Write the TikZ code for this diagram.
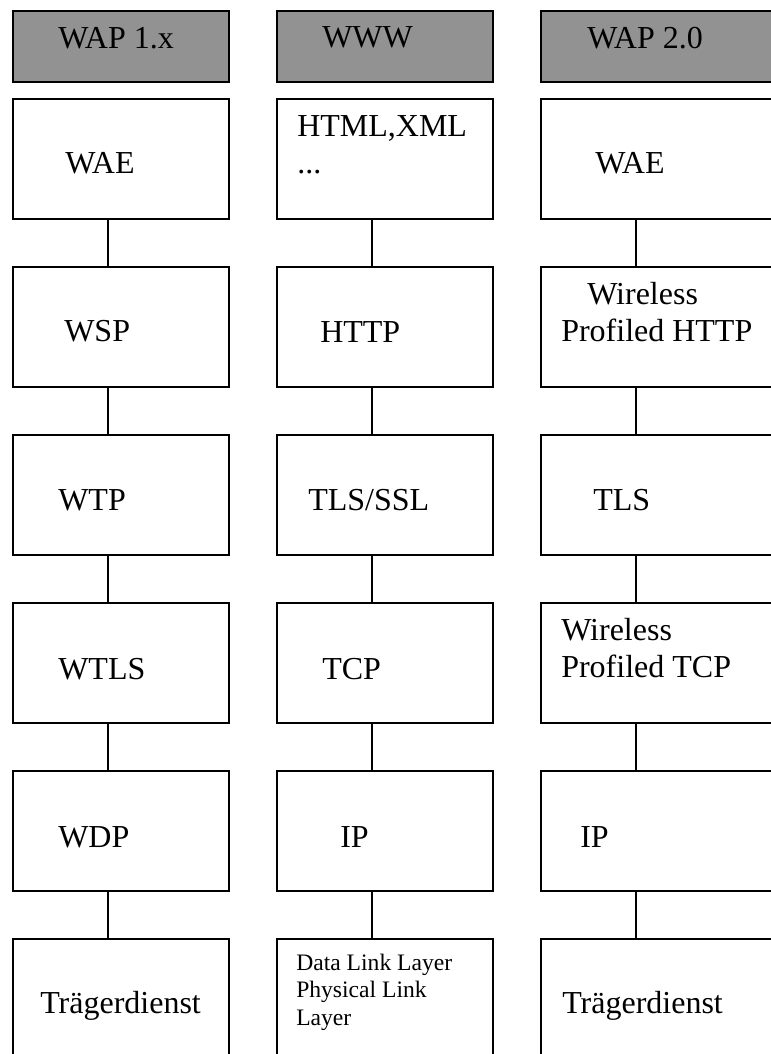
\documentclass[tikz,border=0pt]{standalone}
\usepackage{fontspec}
\setmainfont{Liberation Serif}
\usepackage{xcolor}
\definecolor{headgray}{RGB}{146,146,146}

\begin{document}
\begin{tikzpicture}[x=0.75pt,y=-0.75pt,
    layer/.style={draw,line width=1.2pt,inner sep=0pt,anchor=north west,
      minimum width=162pt,minimum height=90pt},
    wide/.style={layer,minimum width=195pt},
    head/.style={fill=headgray,minimum height=53.25pt},
    txt/.style={anchor=base west,inner sep=0pt,align=left,
      font=\fontsize{24}{27.6}\selectfont},
    smalltxt/.style={txt,font=\fontsize{17.7}{20.6}\selectfont},
    link/.style={line width=1.2pt}]
        \useasboundingbox (0,0) rectangle (771,1054);
        \clip (0,0) rectangle (771,1054);

        % headers
        \node[layer,head] (h1) at (12,10) {};
        \node[layer,head] (h2) at (276,10) {};
        \node[wide,head] (h3) at (540,10) {};

        % WAP 1.x stack
        \node[layer] (wae1) at (12,98) {};
        \node[layer] (wsp) at (12,266) {};
        \node[layer] (wtp) at (12,434) {};
        \node[layer] (wtls) at (12,602) {};
        \node[layer] (wdp) at (12,770) {};
        \node[layer] (bearer1) at (12,938) {};

        % WWW stack
        \node[layer] (html) at (276,98) {};
        \node[layer] (http) at (276,266) {};
        \node[layer] (ssl) at (276,434) {};
        \node[layer] (tcp) at (276,602) {};
        \node[layer] (ip2) at (276,770) {};
        \node[layer] (link2) at (276,938) {};

        % WAP 2.0 stack
        \node[wide] (wae3) at (540,98) {};
        \node[wide] (whttp) at (540,266) {};
        \node[wide] (tls) at (540,434) {};
        \node[wide] (wtcp) at (540,602) {};
        \node[wide] (ip3) at (540,770) {};
        \node[wide] (bearer3) at (540,938) {};

        % connectors
        \draw[link] ([xshift=72pt]wae1.south west) -- ([xshift=72pt]wsp.north west);
        \draw[link] ([xshift=72pt]wsp.south west) -- ([xshift=72pt]wtp.north west);
        \draw[link] ([xshift=72pt]wtp.south west) -- ([xshift=72pt]wtls.north west);
        \draw[link] ([xshift=72pt]wtls.south west) -- ([xshift=72pt]wdp.north west);
        \draw[link] ([xshift=72pt]wdp.south west) -- ([xshift=72pt]bearer1.north west);

        \draw[link] ([xshift=72pt]html.south west) -- ([xshift=72pt]http.north west);
        \draw[link] ([xshift=72pt]http.south west) -- ([xshift=72pt]ssl.north west);
        \draw[link] ([xshift=72pt]ssl.south west) -- ([xshift=72pt]tcp.north west);
        \draw[link] ([xshift=72pt]tcp.south west) -- ([xshift=72pt]ip2.north west);
        \draw[link] ([xshift=72pt]ip2.south west) -- ([xshift=72pt]link2.north west);

        \draw[link] ([xshift=72pt]wae3.south west) -- ([xshift=72pt]whttp.north west);
        \draw[link] ([xshift=72pt]whttp.south west) -- ([xshift=72pt]tls.north west);
        \draw[link] ([xshift=72pt]tls.south west) -- ([xshift=72pt]wtcp.north west);
        \draw[link] ([xshift=72pt]wtcp.south west) -- ([xshift=72pt]ip3.north west);
        \draw[link] ([xshift=72pt]ip3.south west) -- ([xshift=72pt]bearer3.north west);

        % labels (multi-line ones sit on their last baseline)
        \node[txt] (t-h1) at (58,48) {WAP 1.x};
        \node[txt] (t-wae1) at (65,173) {WAE};
        \node[txt] (t-wsp) at (64,341) {WSP};
        \node[txt] (t-wtp) at (58,510) {WTP};
        \node[txt] (t-wtls) at (58,679) {WTLS};
        \node[txt] (t-wdp) at (58,847) {WDP};
        \node[txt] (t-bearer1) at (40,1013) {Trägerdienst};

        \node[txt] (t-h2) at (322,47) {WWW};
        \node[txt] (t-html) at (297,173) {HTML,XML\\...};
        \node[txt] (t-http) at (320,342) {HTTP};
        \node[txt] (t-ssl) at (308,510) {TLS/SSL};
        \node[txt] (t-tcp) at (322,679) {TCP};
        \node[txt] (t-ip2) at (340,847) {IP};
        \node[smalltxt] (t-link2) at (296,1025) {Data Link Layer\\Physical Link\\Layer};

        \node[txt] (t-h3) at (587,48) {WAP 2.0};
        \node[txt] (t-wae3) at (595,173) {WAE};
        \node[txt] (t-whttp) at (561,341) {\hspace*{19.5pt}Wireless\\Profiled HTTP};
        \node[txt] (t-tls) at (593,510) {TLS};
        \node[txt] (t-wtcp) at (561,677) {Wireless\\Profiled TCP};
        \node[txt] (t-ip3) at (580,847) {IP};
        \node[txt] (t-bearer3) at (562,1013) {Trägerdienst};
\end{tikzpicture}
\end{document}
